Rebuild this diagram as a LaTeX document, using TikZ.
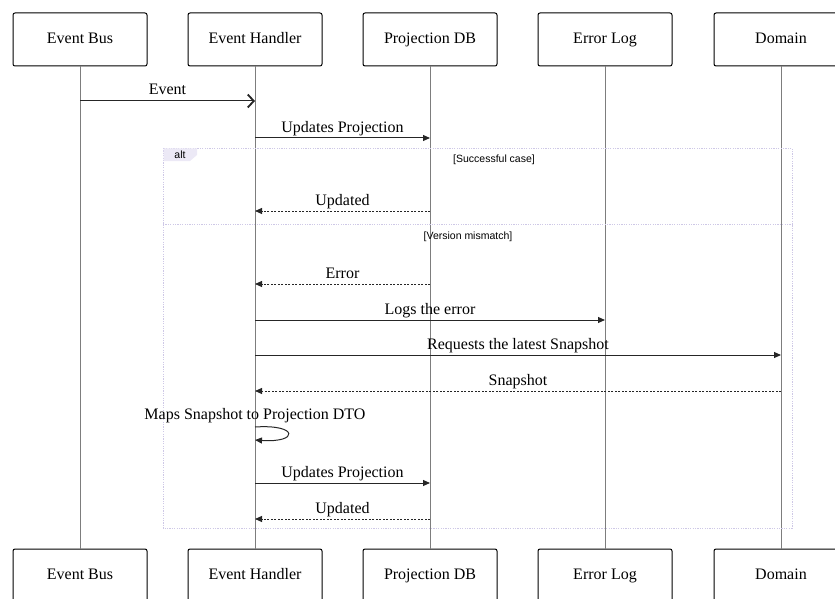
\documentclass[tikz,border=0pt]{standalone}
\usepackage{fontspec}
\setmainfont{Liberation Serif}
\newfontfamily\notefont{Liberation Sans}
\usepackage{tikz}
\usetikzlibrary{arrows.meta}
\usetikzlibrary{calc}

\definecolor{framecol}{RGB}{206,200,230}
\definecolor{tagcol}{RGB}{236,233,246}
\definecolor{lifecol}{RGB}{125,125,125}

\begin{document}
\begin{tikzpicture}[x=1pt, y=-1pt,
    actor/.style = {draw, rounded corners=2pt, line width=1pt, minimum width=134pt, minimum height=53pt, text height=11pt, text depth=3.5pt, font=\fontsize{16}{19}\selectfont},
    msg/.style = {-{Triangle[length=7pt, width=6pt]}, line width=1pt, draw=black!85},
    reply/.style = {msg, dash pattern=on 2pt off 1.5pt},
    lbl/.style = {font=\fontsize{16}{19}\selectfont, text height=11pt, text depth=3.5pt, inner sep=2pt},
    note/.style = {font=\notefont\fontsize{10.5}{12}\selectfont, inner sep=0pt},
    life/.style = {draw=lifecol, line width=0.8pt},
    frame/.style = {draw=framecol, line width=0.9pt, dash pattern=on 1.2pt off 1.2pt}]
    \useasboundingbox (0,0) rectangle (835,599);

    \node [actor] (bus)     at (80, 39.5)  {Event Bus};
    \node [actor] (handler) at (255, 39.5) {Event Handler};
    \node [actor] (proj)    at (430, 39.5) {Projection DB};
    \node [actor] (errlog)  at (605, 39.5) {Error Log};
    \node [actor] (domain)  at (781, 39.5) {Domain};

    \node [actor] (bus2)     at (80, 575.5)  {Event Bus};
    \node [actor] (handler2) at (255, 575.5) {Event Handler};
    \node [actor] (proj2)    at (430, 575.5) {Projection DB};
    \node [actor] (errlog2)  at (605, 575.5) {Error Log};
    \node [actor] (domain2)  at (781, 575.5) {Domain};

    \draw [life] (bus) -- (bus2);
    \draw [life] (handler) -- (handler2);
    \draw [life] (proj) -- (proj2);
    \draw [life] (errlog) -- (errlog2);
    \draw [life] (domain) -- (domain2);

    \draw [frame] (163,148) rectangle (792,528);
    \draw [frame] (163,224) -- (792,224);
    \fill [tagcol] (163.5,148.5) -- (197,148.5) -- (197,155) -- (190,161) -- (163.5,161) -- cycle;
    \node [note] (alt) at (180,154.5) {alt};
    \node [note] (ok)  at (494,160) {[Successful case]};
    \node [note] (bad) at (468,237) {[Version mismatch]};

    \draw [line width=1pt, draw=black!85, -{Straight Barb[length=6pt, width=13pt, line width=1.8pt]}] (bus |- 0,101) -- node[lbl, above] {Event} (handler |- 0,101);
    \draw [msg] (handler |- 0,138) -- node[lbl, above] {Updates Projection} (proj |- 0,138);
    \draw [reply] (proj |- 0,211) -- node[lbl, above] {Updated} (handler |- 0,211);
    \draw [reply] (proj |- 0,284) -- node[lbl, above] {Error} (handler |- 0,284);
    \draw [msg] (handler |- 0,320) -- node[lbl, above] {Logs the error} (errlog |- 0,320);
    \draw [msg] (handler |- 0,355) -- node[lbl, above] {Requests the latest Snapshot} (domain |- 0,355);
    \draw [reply] (domain |- 0,391) -- node[lbl, above] {Snapshot} (handler |- 0,391);
    \node [lbl] (maps) at (255,416) {Maps Snapshot to Projection DTO};
    \draw [msg] (handler |- 0,427) .. controls +(44,-3) and +(44,3) .. (handler |- 0,440);
    \draw [msg] (handler |- 0,483) -- node[lbl, above] {Updates Projection} (proj |- 0,483);
    \draw [reply] (proj |- 0,519) -- node[lbl, above] {Updated} (handler |- 0,519);

\end{tikzpicture}
\end{document}
